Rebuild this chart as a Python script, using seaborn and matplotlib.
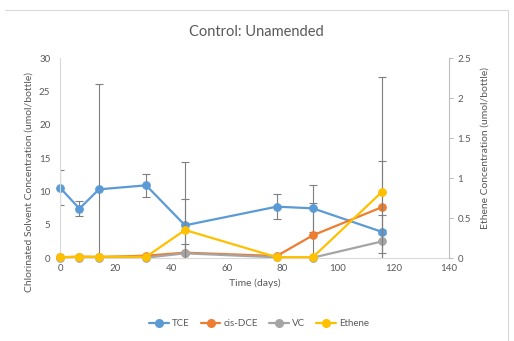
import matplotlib
matplotlib.use("Agg")
import matplotlib.pyplot as plt
from matplotlib.lines import Line2D
import numpy as np
import pandas as pd
import seaborn as sns

# Sampling days
days = [0, 7, 14, 31, 45, 78, 91, 116]

# Chlorinated solvents (umol/bottle), left axis
tce = [10.55, 7.4, 10.3, 10.9, 4.9, 7.7, 7.45, 3.9]
cis_dce = [0.1, 0.2, 0.15, 0.35, 0.8, 0.3, 3.4, 7.65]
vc = [0.05, 0.05, 0.05, 0.05, 0.7, 0.1, 0.05, 2.5]

# Ethene (umol/bottle), right axis
ethene = [0.01, 0.015, 0.015, 0.015, 0.35, 0.01, 0.01, 0.83]

# Error bar half-widths
tce_err = [2.65, 1.1, 15.8, 1.7, 9.5, 1.9, 3.55, 0.3]
cis_dce_err = [0, 0, 0, 0, 1.35, 0, 4.85, 6.9]
vc_err = [0, 0, 0, 0, 0, 0, 0, 3.9]
ethene_err = [0, 0, 0, 0, 0.39, 0, 0, 1.43]

series_names = ["TCE", "cis-DCE", "VC", "Ethene"]
colors = {"TCE": "#5B9BD5", "cis-DCE": "#ED7D31", "VC": "#A5A5A5", "Ethene": "#FFC000"}

sns.set_theme(style="white")
plt.rcParams["font.family"] = ["Lato", "DejaVu Sans"]
text_color = "#595959"

solvents = pd.DataFrame({
    "day": days * 3,
    "conc": tce + cis_dce + vc,
    "species": ["TCE"] * len(days) + ["cis-DCE"] * len(days) + ["VC"] * len(days),
})
eth = pd.DataFrame({"day": days, "conc": ethene, "species": ["Ethene"] * len(days)})

fig = plt.figure(figsize=(5.14, 3.41), dpi=100)
ax = fig.add_axes([60 / 514, 1 - 258 / 341, 389 / 514, 200 / 341])
ax2 = ax.twinx()

err_kw = dict(fmt="none", ecolor="#7f7f7f", elinewidth=0.8, capsize=2.6, capthick=0.8, zorder=1)
for vals, errs in [(tce, tce_err), (cis_dce, cis_dce_err), (vc, vc_err)]:
    ax.errorbar(days, vals, yerr=errs, **err_kw)

sns.lineplot(data=solvents, x="day", y="conc", hue="species",
             hue_order=["TCE", "cis-DCE", "VC"], palette=colors,
             marker="o", markersize=5.5, linewidth=1.6, errorbar=None,
             legend=False, ax=ax, zorder=2)

ax2.errorbar(days, ethene, yerr=ethene_err, **err_kw)
sns.lineplot(data=eth, x="day", y="conc", color=colors["Ethene"],
             marker="o", markersize=5.5, linewidth=1.6, errorbar=None,
             legend=False, ax=ax2, zorder=2)

# Series markers sit on the axis floor, so let them overhang it
for a in (ax, ax2):
    for ln in a.lines:
        if ln.get_marker() == "o":
            ln.set_markeredgecolor(ln.get_color())
            ln.set_clip_on(False)

ax.set_xlim(0, 140)
ax.set_ylim(0, 30)
ax2.set_ylim(0, 2.5)
ax.set_xticks(np.arange(0, 141, 20))
ax.set_yticks(np.arange(0, 31, 5))
ax2.set_yticks([0, 0.5, 1, 1.5, 2, 2.5])
ax2.set_yticklabels(["0", "0.5", "1", "1.5", "2", "2.5"])

for a in (ax, ax2):
    a.spines["top"].set_visible(False)
ax.spines["right"].set_visible(False)
ax2.spines["left"].set_visible(False)
ax2.spines["bottom"].set_visible(False)
ax.spines["left"].set_color("#d9d9d9")
ax.spines["bottom"].set_color("#d9d9d9")
ax2.spines["right"].set_color("#bfbfbf")
for sp in ("left", "bottom"):
    ax.spines[sp].set_linewidth(0.8)
ax2.spines["right"].set_linewidth(0.8)

ax.tick_params(axis="both", which="both", length=0, labelsize=7, colors=text_color)
ax.tick_params(axis="y", pad=7)
ax.tick_params(axis="x", pad=4)
ax2.tick_params(axis="y", length=3, width=0.8, color="#bfbfbf", direction="out",
                labelsize=7, labelcolor=text_color, pad=3)

ax.set_xlabel("Time (days)", fontsize=7.5, color=text_color, labelpad=4)
ax.set_ylabel("")
ax2.set_ylabel("")
fig.text(29 / 514, 1 - 182 / 341, "Chlorinated Solvent Concentration (umol/bottle)",
         rotation=90, ha="center", va="center", fontsize=7.5, color=text_color)
fig.text(485 / 514, 1 - 148 / 341, "Ethene Concentration (umol/bottle)",
         rotation=90, ha="center", va="center", fontsize=7.5, color=text_color)

fig.text(256 / 514, 1 - 32 / 341, "Control: Unamended", ha="center", va="center",
         fontsize=10.5, color=text_color)

handles = [Line2D([0], [0], color=colors[n], linewidth=1.6, marker="o",
                  markersize=5.5, markeredgecolor=colors[n]) for n in series_names]
leg = fig.legend(handles, series_names, loc="center", bbox_to_anchor=(259 / 514, 1 - 324 / 341),
                 ncol=4, frameon=False, fontsize=7, handlelength=2.0, handletextpad=0.3,
                 columnspacing=1.2)
for t in leg.get_texts():
    t.set_color(text_color)

# Chart area border (top and right edges)
fig.add_artist(Line2D([5 / 514, 508 / 514], [1 - 10 / 341, 1 - 10 / 341],
                      transform=fig.transFigure, color="#d9d9d9", linewidth=0.8))
fig.add_artist(Line2D([508 / 514, 508 / 514], [1 - 10 / 341, 0],
                      transform=fig.transFigure, color="#d9d9d9", linewidth=0.8))

fig.savefig("out.png", dpi=100)
